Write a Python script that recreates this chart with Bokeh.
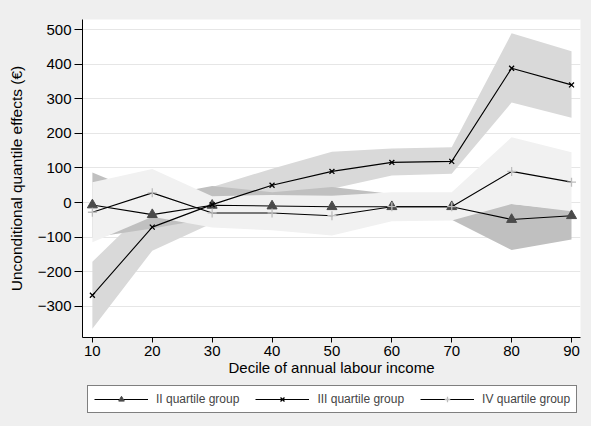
import numpy as np
from bokeh.plotting import figure
from bokeh.layouts import column
from bokeh.models import Range1d, FixedTicker, Legend, LegendItem
from bokeh.embed import file_html
from bokeh.resources import INLINE

# Data
deciles = [10, 20, 30, 40, 50, 60, 70, 80, 90]

q2 = [-7, -35, -8, -10, -12, -12, -12, -49, -38]
q2_lo = [-101, -75, -45, -45, -50, -45, -50, -137, -107]
q2_hi = [87, 15, 48, 30, 45, 25, 22, -4, -22]

q3 = [-268, -71, -6, 50, 90, 116, 119, 388, 340]
q3_lo = [-365, -139, -60, 0, 40, 78, 83, 289, 245]
q3_hi = [-171, -3, 45, 98, 147, 156, 160, 489, 437]

q4 = [-28, 28, -30, -30, -38, -12, -12, 90, 59]
q4_lo = [-115, -41, -72, -80, -95, -54, -52, -4, -25]
q4_hi = [59, 97, 18, 22, 20, 30, 30, 189, 145]

y_ticks = [-300, -200, -100, 0, 100, 200, 300, 400, 500]
labels = ["II quartile group", "III quartile group", "IV quartile group"]

FONT = "Liberation Sans"
BG = "#efefef"

fig = figure(frame_width=498, frame_height=318, output_backend="svg", toolbar_location=None,
             x_range=Range1d(8.35, 91.5), y_range=Range1d(-390, 529),
             min_border_left=82, min_border_right=11, min_border_top=19,
             min_border_bottom=43)

fig.border_fill_color = BG
fig.background_fill_color = "white"
fig.outline_line_color = None

# confidence bands
fig.varea(deciles, q3_lo, q3_hi, fill_color="#d9d9d9")
fig.varea(deciles, q2_lo, q2_hi, fill_color="#c0c0c0")
fig.varea(deciles, q4_lo, q4_hi, fill_color="#f1f1f1")

# lines + markers
styles = [
    dict(marker="triangle", size=10, fill_color="#4a4a4a", line_color="#4a4a4a", line_width=1),
    dict(marker="x", size=7, line_color="black", line_width=1.3),
    dict(marker="cross", size=9, line_color="#bdbdbd", line_width=1.3),
]
for ys, st in zip([q2, q3, q4], styles):
    fig.line(deciles, ys, line_color="black", line_width=1.1)
    fig.scatter(deciles, ys, **st)

# axes
fig.xaxis.ticker = FixedTicker(ticks=deciles)
fig.yaxis.ticker = FixedTicker(ticks=y_ticks)
fig.xaxis.axis_label = "Decile of annual labour income"
fig.yaxis.axis_label = "Unconditional quantile effects (€)"
for ax in (fig.xaxis, fig.yaxis):
    ax.axis_line_color = "black"
    ax.major_tick_line_color = "black"
    ax.minor_tick_line_color = None
    ax.major_tick_in = 0
    ax.major_label_text_font = FONT
    ax.major_label_text_font_size = "15px"
    ax.major_label_text_color = "black"
    ax.axis_label_text_font = FONT
    ax.axis_label_text_font_style = "normal"
    ax.axis_label_text_color = "black"
fig.xaxis.axis_label_text_font_size = "15px"
fig.yaxis.axis_label_text_font_size = "15.5px"
fig.xaxis.major_tick_out = 5
fig.xaxis.major_label_standoff = 3
fig.xaxis.axis_label_standoff = 0
fig.yaxis.major_tick_out = 8
fig.yaxis.major_label_standoff = 3
fig.yaxis.axis_label_standoff = 10

fig.xgrid.grid_line_color = None
fig.ygrid.grid_line_color = "#e6e6e6"
fig.ygrid.grid_line_width = 1.2

# legend strip below the chart (a second small figure so the legend is not clipped)
leg = figure(width=591, height=46, output_backend="svg", toolbar_location=None,
             x_range=Range1d(0, 1), y_range=Range1d(0, 1),
             min_border_left=0, min_border_right=0, min_border_top=0, min_border_bottom=0)
leg.axis.visible = False
leg.grid.visible = False
leg.outline_line_color = None
leg.background_fill_color = BG
leg.border_fill_color = BG

items = []
for lab, st in zip(labels, styles):
    lr = leg.line([-5, -4], [-5, -4], line_color="black", line_width=1.1)
    sr = leg.scatter([-5], [-5], **st)
    items.append(LegendItem(label=lab, renderers=[lr, sr]))

# the column lines the frames up, so x is measured from the chart's left axis
legend = Legend(items=items, orientation="horizontal", location=(5, 13))
legend.label_text_font = FONT
legend.label_text_font_size = "12px"
legend.glyph_width = 54
legend.glyph_height = 14
legend.label_height = 14
legend.label_standoff = 8
legend.spacing = 16
legend.padding = 6
legend.margin = 0
legend.border_line_color = "black"
legend.border_line_width = 1
legend.background_fill_color = "white"
leg.add_layout(legend, "center")

p = column(fig, leg, spacing=0, styles={"background-color": BG})

open("out.html", "w").write(file_html(p, INLINE))
